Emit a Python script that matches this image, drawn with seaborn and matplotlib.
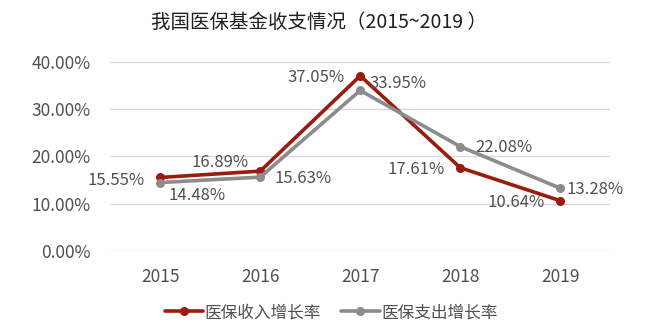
import matplotlib
matplotlib.use("Agg")
import matplotlib.pyplot as plt
import seaborn as sns
import pandas as pd

years = ["2015", "2016", "2017", "2018", "2019"]
income = [15.55, 16.89, 37.05, 17.61, 10.64]
expense = [14.48, 15.63, 33.95, 22.08, 13.28]
series_names = ["医保收入增长率", "医保支出增长率"]
title = "我国医保基金收支情况（2015~2019 ）"

sns.set_theme(style="white")
plt.rcParams['font.family'] = ['Noto Sans CJK SC', 'DejaVu Sans']

df = pd.DataFrame({
    "year": years * 2,
    "value": [v / 100 for v in income] + [v / 100 for v in expense],
    "series": [series_names[0]] * 5 + [series_names[1]] * 5,
})

red = "#9B1B0E"
gray = "#8C8C8C"
txt = "#505050"

fig = plt.figure(figsize=(6.52, 3.29), dpi=100)
ax = fig.add_axes([0.169, 0.237, 0.767, 0.575])
sns.lineplot(data=df, x="year", y="value", hue="series", palette=[red, gray],
             marker="o", markersize=6.5, markeredgewidth=0, linewidth=2.6, ax=ax,
             sort=False)
ax.set_xlim(-0.5, 4.5)
ax.set_ylim(0, 0.4)
ax.set_yticks([0, 0.1, 0.2, 0.3, 0.4])
ax.set_yticklabels([f"{v:.2f}%" for v in [0, 10, 20, 30, 40]])
ax.yaxis.grid(True, color="#D9D9D9", linewidth=1)
ax.set_axisbelow(True)
for s in ax.spines.values():
    s.set_visible(False)
ax.tick_params(axis="both", length=0, labelsize=12.5, colors=txt, pad=12)
ax.tick_params(axis="y", pad=14)
ax.set_xlabel("")
ax.set_ylabel("")

# labels: (dx points, dy points, ha)
inc_off = [(-11, -2, "right"), (-8, 6, "right"), (-11, -1.5, "right"), (-11, -1.5, "right"), (-11.5, -1, "right")]
exp_off = [(6, -9, "left"), (10, -1, "left"), (7, 5, "left"), (11, -1, "left"), (4.5, -1, "left")]
for i, v in enumerate(income):
    dx, dy, ha = inc_off[i]
    ax.annotate(f"{v:.2f}%", (i, v / 100), xytext=(dx, dy), textcoords="offset points",
                ha=ha, va="center", fontsize=12, color=txt)
for i, v in enumerate(expense):
    dx, dy, ha = exp_off[i]
    ax.annotate(f"{v:.2f}%", (i, v / 100), xytext=(dx, dy), textcoords="offset points",
                ha=ha, va="center", fontsize=12, color=txt)

ax.legend_.remove()
handles, labels = ax.get_legend_handles_labels()
fig.legend(handles, labels, loc="center", bbox_to_anchor=(0.508, 0.05), ncol=2,
           frameon=False, fontsize=12, labelcolor=txt, handlelength=2.3,
           handletextpad=0.1, columnspacing=1.2)

fig.suptitle(title, x=0.49, y=0.965, fontsize=14, color="#202020")
fig.savefig("out.png", dpi=100)
